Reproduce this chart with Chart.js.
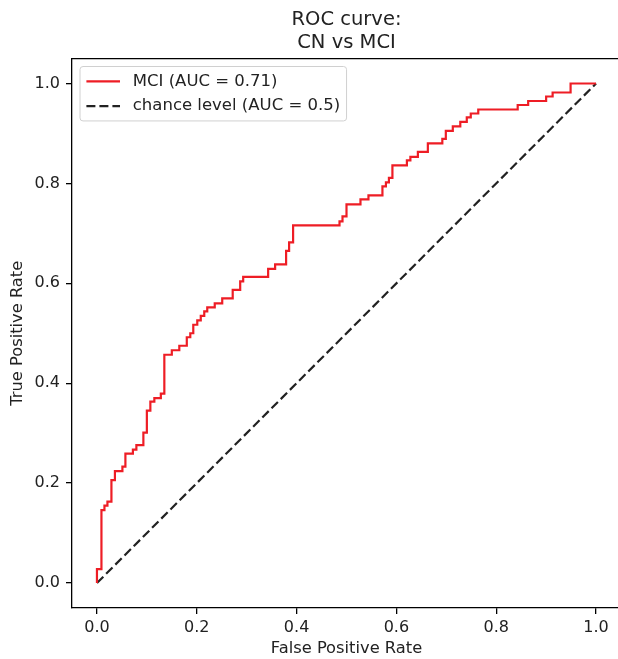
<!DOCTYPE html>
<html>
<head>
<meta charset="utf-8">
<script src="https://cdn.jsdelivr.net/npm/chart.js@4.4.1/dist/chart.umd.min.js"></script>
<style>
  html, body { margin: 0; padding: 0; background: #fff; overflow: hidden; }
  #wrap { width: 618px; height: 659px; overflow: hidden; position: relative; }
  canvas { display: block; }
</style>
</head>
<body>
<div id="wrap"><canvas id="myCanvas" width="640" height="659"></canvas></div>
<script>
var titleLines = ['ROC curve:', 'CN vs MCI'];
var xLabel = 'False Positive Rate';
var yLabel = 'True Positive Rate';
var tickValues = [0, 0.2, 0.4, 0.6, 0.8, 1.0];

// ROC corners of the MCI curve
var mciLabel = 'MCI (AUC = 0.71)';
var fpr = [0, 0, 0.009, 0.009, 0.015, 0.015, 0.021, 0.021, 0.029, 0.029, 0.036, 0.036, 0.051, 0.051,
  0.057, 0.057, 0.072, 0.072, 0.079, 0.079, 0.093, 0.093, 0.1, 0.1, 0.107, 0.107, 0.115, 0.115,
  0.128, 0.128, 0.135, 0.135, 0.15, 0.15, 0.165, 0.165, 0.18, 0.18, 0.187, 0.187, 0.193, 0.193,
  0.201, 0.201, 0.208, 0.208, 0.215, 0.215, 0.221, 0.221, 0.236, 0.236, 0.251, 0.251, 0.272, 0.272,
  0.287, 0.287, 0.293, 0.293, 0.343, 0.343, 0.357, 0.357, 0.379, 0.379, 0.385, 0.385, 0.393, 0.393,
  0.486, 0.486, 0.492, 0.492, 0.5, 0.5, 0.528, 0.528, 0.544, 0.544, 0.572, 0.572, 0.579, 0.579,
  0.585, 0.585, 0.592, 0.592, 0.621, 0.621, 0.628, 0.628, 0.643, 0.643, 0.663, 0.663, 0.692, 0.692,
  0.699, 0.699, 0.713, 0.713, 0.728, 0.728, 0.741, 0.741, 0.749, 0.749, 0.764, 0.764, 0.843, 0.843,
  0.864, 0.864, 0.9, 0.9, 0.913, 0.913, 0.949, 0.949, 1.0];
var tpr = [0, 0.028, 0.028, 0.146, 0.146, 0.155, 0.155, 0.163, 0.163, 0.206, 0.206, 0.224, 0.224, 0.233,
  0.233, 0.259, 0.259, 0.267, 0.267, 0.276, 0.276, 0.301, 0.301, 0.345, 0.345, 0.363, 0.363, 0.37,
  0.37, 0.379, 0.379, 0.457, 0.457, 0.466, 0.466, 0.475, 0.475, 0.492, 0.492, 0.5, 0.5, 0.517,
  0.517, 0.526, 0.526, 0.535, 0.535, 0.544, 0.544, 0.552, 0.552, 0.56, 0.56, 0.57, 0.57, 0.587,
  0.587, 0.604, 0.604, 0.613, 0.613, 0.629, 0.629, 0.638, 0.638, 0.665, 0.665, 0.682, 0.682, 0.716,
  0.716, 0.724, 0.724, 0.734, 0.734, 0.758, 0.758, 0.768, 0.768, 0.776, 0.776, 0.794, 0.794, 0.802,
  0.802, 0.811, 0.811, 0.836, 0.836, 0.846, 0.846, 0.853, 0.853, 0.863, 0.863, 0.88, 0.88, 0.889,
  0.889, 0.905, 0.905, 0.914, 0.914, 0.923, 0.923, 0.932, 0.932, 0.94, 0.94, 0.948, 0.948, 0.957,
  0.957, 0.965, 0.965, 0.974, 0.974, 0.982, 0.982, 1.0, 1.0];

var chanceLabel = 'chance level (AUC = 0.5)';
var chanceX = [0, 1];
var chanceY = [0, 1];

function zip(xs, ys) {
  var out = [];
  for (var i = 0; i < xs.length; i++) out.push({ x: xs[i], y: ys[i] });
  return out;
}

Chart.defaults.font.family = "'DejaVu Sans', sans-serif";
Chart.defaults.color = '#222';

// top spine (the right one sits past the visible edge in the original)
var spines = {
  id: 'spines',
  afterDraw: function (chart) {
    var a = chart.chartArea, ctx = chart.ctx;
    ctx.save();
    ctx.strokeStyle = '#000';
    ctx.lineWidth = 1.3;
    ctx.beginPath();
    ctx.moveTo(a.left, a.top);
    ctx.lineTo(a.right + 5, a.top);
    ctx.stroke();
    ctx.restore();
  }
};

// legend inside the upper-left corner, matplotlib style
var insideLegend = {
  id: 'insideLegend',
  afterDraw: function (chart) {
    var ctx = chart.ctx, a = chart.chartArea;
    var fs = 16, tfs = 16.5;
    var sets = chart.data.datasets;
    ctx.save();
    ctx.font = tfs + "px 'DejaVu Sans'";
    var maxW = 0;
    sets.forEach(function (d) { maxW = Math.max(maxW, ctx.measureText(d.label).width); });
    var x0 = a.left + 0.5 * fs, y0 = a.top + 0.5 * fs;
    var pad = 0.4 * fs, handle = 2.1 * fs, gap = 0.8 * fs, rowH = fs * 1.05, spacing = 0.5 * fs;
    var w = pad * 2 + handle + gap + maxW;
    var h = pad * 2 + rowH * sets.length + spacing * (sets.length - 1);
    ctx.beginPath();
    if (ctx.roundRect) ctx.roundRect(x0, y0, w, h, 3); else ctx.rect(x0, y0, w, h);
    ctx.fillStyle = 'rgba(255,255,255,0.8)';
    ctx.fill();
    ctx.strokeStyle = '#d0d0d0';
    ctx.lineWidth = 1;
    ctx.stroke();
    sets.forEach(function (d, i) {
      var cy = y0 + pad + rowH / 2 + i * (rowH + spacing);
      ctx.beginPath();
      ctx.setLineDash(d.borderDash || []);
      ctx.strokeStyle = d.borderColor;
      ctx.lineWidth = d.borderWidth;
      ctx.moveTo(x0 + pad, cy);
      ctx.lineTo(x0 + pad + handle, cy);
      ctx.stroke();
      ctx.setLineDash([]);
      ctx.fillStyle = '#222';
      ctx.textBaseline = 'middle';
      ctx.fillText(d.label, x0 + pad + handle + gap, cy);
    });
    ctx.restore();
  }
};

function fixedTicks(axis) {
  axis.ticks = tickValues.map(function (v) { return { value: v }; });
}

var ctx = document.getElementById('myCanvas').getContext('2d');
var rocChart = new Chart(ctx, {
  type: 'scatter',
  data: {
    datasets: [
      {
        label: mciLabel,
        data: zip(fpr, tpr),
        showLine: true,
        borderColor: '#ee1d25',
        backgroundColor: '#ee1d25',
        borderWidth: 2.2,
        pointRadius: 0,
        tension: 0
      },
      {
        label: chanceLabel,
        data: zip(chanceX, chanceY),
        showLine: true,
        borderColor: '#222222',
        backgroundColor: '#222222',
        borderDash: [9, 4],
        borderWidth: 2.2,
        pointRadius: 0
      }
    ]
  },
  options: {
    responsive: false,
    animation: false,
    devicePixelRatio: 1,
    layout: { padding: { left: 0, right: 19, top: 0, bottom: 0 } },
    plugins: {
      legend: { display: false },
      tooltip: { enabled: false },
      title: {
        display: true,
        text: titleLines,
        fullSize: false,
        color: '#222',
        font: { size: 19.5, weight: 'normal', lineHeight: 1.17 },
        padding: { top: 8.5, bottom: 4.4 }
      }
    },
    scales: {
      x: {
        type: 'linear',
        min: -0.05,
        max: 1.05,
        afterBuildTicks: fixedTicks,
        afterFit: function (s) { s.height = 51; },
        grid: { drawOnChartArea: false, drawTicks: true, tickLength: 6, color: '#000', lineWidth: 1.3 },
        border: { display: true, color: '#000', width: 1.3 },
        ticks: {
          padding: 4,
          maxRotation: 0,
          font: { size: 16 },
          color: '#222',
          callback: function (v) { return v.toFixed(1); }
        },
        title: { display: true, text: xLabel, font: { size: 16.3 }, color: '#222', padding: { top: 0, bottom: 0 } }
      },
      y: {
        type: 'linear',
        min: -0.05,
        max: 1.05,
        afterBuildTicks: fixedTicks,
        afterFit: function (s) { s.width = 72; },
        grid: { drawOnChartArea: false, drawTicks: true, tickLength: 6, color: '#000', lineWidth: 1.3 },
        border: { display: true, color: '#000', width: 1.3 },
        ticks: {
          padding: 6,
          font: { size: 16 },
          color: '#222',
          callback: function (v) { return v.toFixed(1); }
        },
        title: { display: true, text: yLabel, font: { size: 16.3 }, color: '#222', padding: { top: 8, bottom: 0 } }
      }
    }
  },
  plugins: [spines, insideLegend]
});
</script>
</body>
</html>
